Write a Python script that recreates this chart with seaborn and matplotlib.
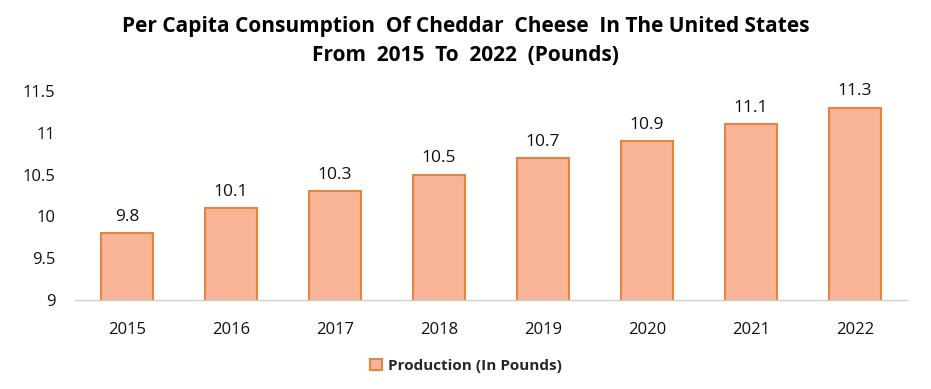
import matplotlib.pyplot as plt
import seaborn as sns
import pandas as pd

# Data
years = ["2015", "2016", "2017", "2018", "2019", "2020", "2021", "2022"]
consumption = [9.8, 10.1, 10.3, 10.5, 10.7, 10.9, 11.1, 11.3]
yticks = [9, 9.5, 10, 10.5, 11, 11.5]
ytick_labels = ["9", "9.5", "10", "10.5", "11", "11.5"]

df = pd.DataFrame({"Year": years, "Production (In Pounds)": consumption})

sns.set_style("white")
plt.rcParams['font.family'] = ['Open Sans', 'DejaVu Sans']

fig = plt.figure(figsize=(9.31, 3.89), dpi=100)
ax = fig.add_axes([0.0806, 0.2288, 0.8934, 0.5372])

sns.barplot(data=df, x="Year", y="Production (In Pounds)", color="#f7b497",
            edgecolor="#e5843f", linewidth=1.5, width=0.5, saturation=1,
            label="Production (In Pounds)", ax=ax)

ax.set_ylim(9, 11.5)
ax.set_xlim(-0.5, 7.5)
ax.set_yticks(yticks)
ax.set_yticklabels(ytick_labels)
ax.tick_params(axis='both', length=0, labelsize=12, colors="#111111")
ax.tick_params(axis='x', pad=16)
ax.tick_params(axis='y', pad=14)
ax.set_xlabel("")
ax.set_ylabel("")

for s in ["top", "right", "left"]:
    ax.spines[s].set_visible(False)
ax.spines["bottom"].set_color("#d0d0d0")
ax.spines["bottom"].set_linewidth(1)

for i, v in enumerate(consumption):
    ax.text(i, v + 0.1, f"{v}", ha="center", va="bottom", fontsize=12.5, color="#111111")

fig.suptitle("Per Capita Consumption  Of Cheddar  Cheese  In The United States\nFrom  2015  To  2022  (Pounds)",
             fontsize=15, fontweight="bold", y=0.96, linespacing=1.55, color="#000000")

leg = ax.legend(loc="upper center", bbox_to_anchor=(0.47, -0.215), frameon=False,
                fontsize=11, handlelength=0.8, handleheight=0.8, handletextpad=0.4)
for t in leg.get_texts():
    t.set_fontweight("bold")

fig.savefig("out.png", dpi=100)
